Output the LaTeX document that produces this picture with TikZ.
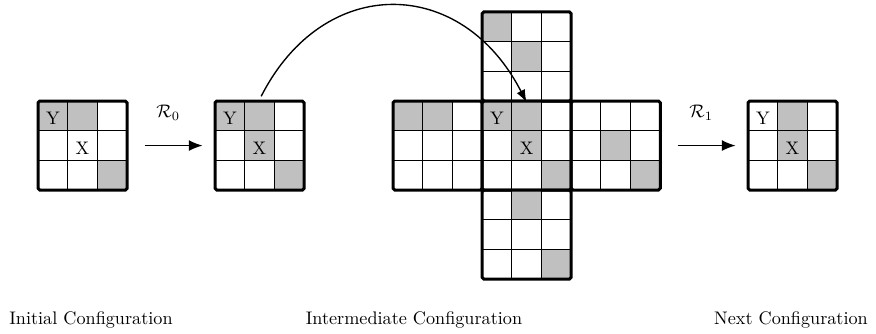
\documentclass[tikz,border=0pt]{standalone}
\usetikzlibrary{arrows.meta}
\definecolor{cellgray}{RGB}{192,192,192}
\tikzset{
  cellline/.style={line width=0.55pt, black},
  blockbox/.style={draw, line width=1.65pt, rounded corners=1pt, inner sep=0pt,
    minimum width=49pt, minimum height=49pt, rectangle},
  cellletter/.style={inner sep=0pt, yshift=-1.6pt},
  steparrow/.style={line width=0.8pt, -{Latex[length=7.5pt,width=6pt]},
    shorten <=8.8pt, shorten >=6pt},
  arcarrow/.style={line width=0.75pt, -{Latex[length=7pt,width=5pt]}, shorten <=2pt},
  caption/.style={anchor=base, inner sep=0pt},
  rulelabel/.style={inner sep=0pt}
}
\newcommand{\cfgblock}[4]{%
  \foreach \cc/\rr in {#4}{\fill[cellgray] ({#2+\cc*29.7},{#3+\rr*29.7}) rectangle ++(29.7,29.7);}
  \foreach \k in {1,2}{%
    \draw[cellline] ({#2+\k*29.7},#3) -- ++(0,89.1);
    \draw[cellline] (#2,{#3+\k*29.7}) -- ++(89.1,0);
  }
  \node[blockbox] (#1) at ({#2+44.55},{#3+44.55}) {};
}
\begin{document}
\begin{tikzpicture}[x=0.55pt,y=-0.55pt]
\useasboundingbox (0,0) rectangle (876,333);
% initial
\cfgblock{g0}{38}{101}{0/0,1/0,2/2}
\node[cellletter] (g0y) at (52.85,115.85) {Y};
\node[cellletter] (g0x) at (82.55,145.55) {X};
% after R0
\cfgblock{g1}{215}{101}{0/0,1/0,1/1,2/2}
\node[cellletter] (g1y) at (229.85,115.85) {Y};
\node[cellletter] (g1x) at (259.55,145.55) {X};
% cross
\cfgblock{cT}{482.1}{11.9}{0/0,1/1}
\cfgblock{cL}{393}{101}{0/0,1/0}
\cfgblock{cC}{482.1}{101}{0/0,1/0,1/1,2/2}
\cfgblock{cR}{571.2}{101}{1/1,2/2}
\cfgblock{cB}{482.1}{190.1}{1/0,2/2}
\node[cellletter] (cy) at (496.95,115.85) {Y};
\node[cellletter] (cx) at (526.65,145.55) {X};
% next
\cfgblock{g2}{748}{101}{1/0,1/1,2/2}
\node[cellletter] (g2y) at (762.85,115.85) {Y};
\node[cellletter] (g2x) at (792.55,145.55) {X};
% arrows
\draw[steparrow] (g0.east) -- (g1.west)
  node[rulelabel, midway, xshift=-1.6pt, yshift=17.9pt] (r0) {$\mathcal{R}_0$};
\draw[steparrow] (cR.east) -- (g2.west)
  node[rulelabel, midway, xshift=-1.6pt, yshift=17.9pt] (r1) {$\mathcal{R}_1$};
\draw[arcarrow] (g1.north) .. controls +(64.5,-126.5) and +(-64.5,-126.5) .. (cT.south);
% captions
\node[caption] (cap0) at (91,324) {Initial Configuration};
\node[caption] (cap1) at (414,324) {Intermediate Configuration};
\node[caption] (cap2) at (791,324) {Next Configuration};
\end{tikzpicture}
\end{document}
